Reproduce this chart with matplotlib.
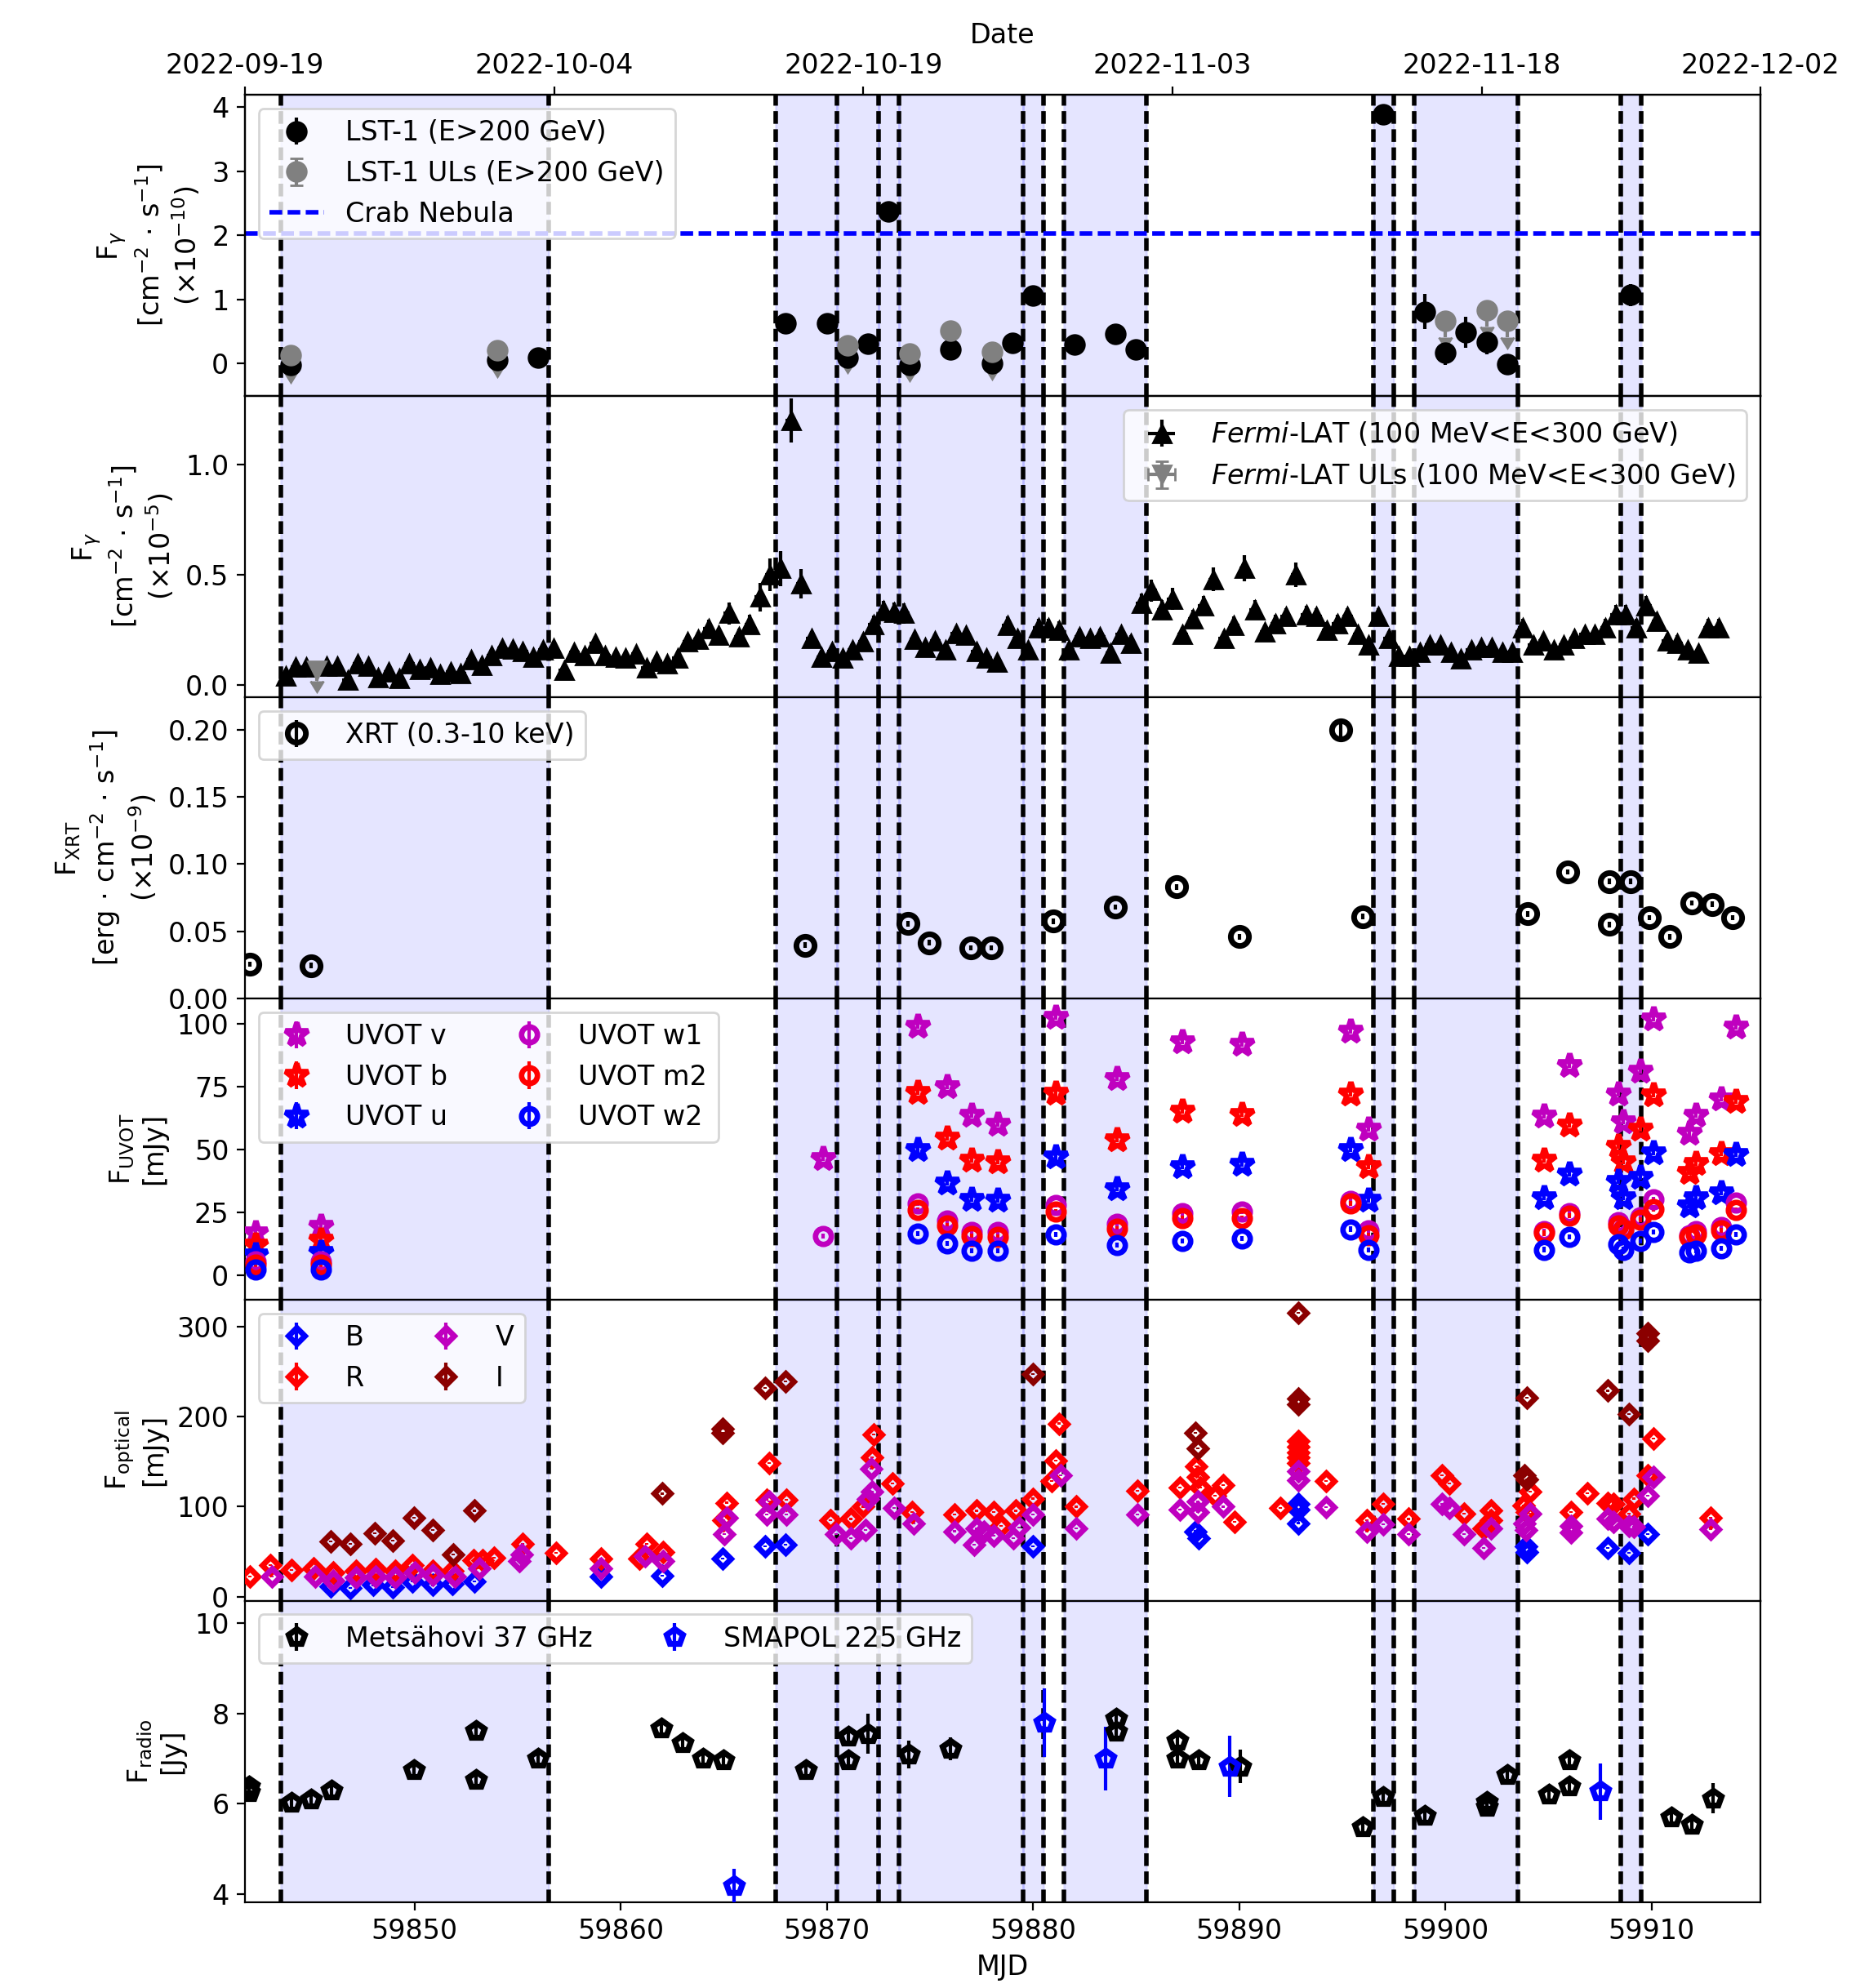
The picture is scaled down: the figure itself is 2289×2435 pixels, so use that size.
import numpy as np
import pandas as pd
import matplotlib
matplotlib.use('Agg')
import matplotlib.pyplot as plt

plt.rcParams['font.size'] = 12

# night windows (MJD) and their edges
night_spans = [(59843.5, 59856.5), (59867.5, 59870.5), (59870.5, 59872.5), (59872.5, 59873.5),
               (59873.5, 59879.5), (59879.5, 59880.5), (59881.5, 59885.5), (59896.5, 59897.5),
               (59898.5, 59903.5), (59908.5, 59909.5)]
night_edges = [59843.5, 59856.5, 59867.5, 59870.5, 59872.5, 59873.5, 59879.5, 59880.5,
               59881.5, 59885.5, 59896.5, 59897.5, 59898.5, 59903.5, 59908.5, 59909.5]

# LST-1 (x1e-10 cm-2 s-1)
lst_mjd = [59844, 59854, 59856, 59868, 59870, 59871, 59872, 59873, 59874, 59876, 59878, 59879,
           59880, 59882, 59884, 59885, 59897, 59899, 59900, 59901, 59902, 59903, 59909]
lst_flux = [-0.02, 0.06, 0.09, 0.63, 0.63, 0.09, 0.31, 2.37, -0.02, 0.22, 0.0, 0.32,
            1.06, 0.29, 0.46, 0.22, 3.89, 0.81, 0.17, 0.49, 0.33, -0.01, 1.07]
lst_err = [0.08, 0.08, 0.06, 0.06, 0.06, 0.08, 0.07, 0.08, 0.08, 0.1, 0.08, 0.07,
           0.08, 0.07, 0.07, 0.07, 0.08, 0.27, 0.19, 0.24, 0.19, 0.1, 0.17]
lst_ul_mjd = [59844, 59854, 59871, 59874, 59876, 59878, 59900, 59902, 59903]
lst_ul = [0.13, 0.21, 0.28, 0.15, 0.51, 0.18, 0.66, 0.83, 0.66]
crab_flux = 2.03

# Fermi-LAT 12 h bins (x1e-5 cm-2 s-1)
fermi_mjd = [59843.75, 59844.25, 59844.75, 59845.75, 59846.25, 59846.75, 59847.25, 59847.75, 59848.25, 59848.75,
             59849.25, 59849.75, 59850.25, 59850.75, 59851.25, 59851.75, 59852.25, 59852.75, 59853.25, 59853.75,
             59854.25, 59854.75, 59855.25, 59855.75, 59856.25, 59856.75, 59857.25, 59857.75, 59858.25, 59858.75,
             59859.25, 59859.75, 59860.25, 59860.75, 59861.25, 59861.75, 59862.25, 59862.75, 59863.25, 59863.75,
             59864.25, 59864.75, 59865.25, 59865.75, 59866.25, 59866.75, 59867.25, 59867.75, 59868.25, 59868.75,
             59869.25, 59869.75, 59870.25, 59870.75, 59871.25, 59871.75, 59872.25, 59872.75, 59873.25, 59873.75,
             59874.25, 59874.75, 59875.25, 59875.75, 59876.25, 59876.75, 59877.25, 59877.75, 59878.25, 59878.75,
             59879.25, 59879.75, 59880.25, 59880.75, 59881.25, 59881.75, 59882.25, 59882.75, 59883.25, 59883.75,
             59884.25, 59884.75, 59885.25, 59885.75, 59886.25, 59886.75, 59887.25, 59887.75, 59888.25, 59888.75,
             59889.25, 59889.75, 59890.25, 59890.75, 59891.25, 59891.75, 59892.25, 59892.75, 59893.25, 59893.75,
             59894.25, 59894.75, 59895.25, 59895.75, 59896.25, 59896.75, 59897.25, 59897.75, 59898.25, 59898.75,
             59899.25, 59899.75, 59900.25, 59900.75, 59901.25, 59901.75, 59902.25, 59902.75, 59903.25, 59903.75,
             59904.25, 59904.75, 59905.25, 59905.75, 59906.25, 59906.75, 59907.25, 59907.75, 59908.25, 59908.75,
             59909.25, 59909.75, 59910.25, 59910.75, 59911.25, 59911.75, 59912.25, 59912.75, 59913.25]
fermi_flux = [0.04, 0.08, 0.08, 0.084, 0.084, 0.022, 0.096, 0.084, 0.035, 0.06,
              0.028, 0.096, 0.072, 0.078, 0.047, 0.06, 0.053, 0.115, 0.09, 0.133,
              0.167, 0.162, 0.152, 0.127, 0.158, 0.167, 0.065, 0.149, 0.133, 0.189,
              0.133, 0.127, 0.121, 0.14, 0.078, 0.109, 0.096, 0.121, 0.195, 0.207,
              0.257, 0.226, 0.325, 0.22, 0.275, 0.40, 0.50, 0.53, 1.20, 0.46,
              0.21, 0.127, 0.152, 0.121, 0.158, 0.195, 0.275, 0.337, 0.331, 0.325,
              0.207, 0.17, 0.20, 0.158, 0.232, 0.226, 0.152, 0.124, 0.105, 0.27,
              0.21, 0.16, 0.26, 0.26, 0.25, 0.16, 0.22, 0.21, 0.22, 0.146,
              0.23, 0.19, 0.37, 0.43, 0.34, 0.39, 0.23, 0.30, 0.36, 0.48,
              0.21, 0.27, 0.53, 0.34, 0.24, 0.28, 0.31, 0.50, 0.32, 0.31,
              0.25, 0.28, 0.31, 0.23, 0.18, 0.31, 0.21, 0.13, 0.13, 0.15,
              0.18, 0.18, 0.15, 0.12, 0.16, 0.17, 0.17, 0.15, 0.15, 0.26,
              0.18, 0.20, 0.16, 0.18, 0.21, 0.23, 0.23, 0.26, 0.32, 0.32,
              0.26, 0.36, 0.29, 0.20, 0.19, 0.16, 0.146, 0.26, 0.26]
fermi_err = [0.02, 0.025, 0.025, 0.025, 0.025, 0.02, 0.025, 0.025, 0.02, 0.02,
             0.02, 0.025, 0.02, 0.02, 0.02, 0.02, 0.02, 0.025, 0.025, 0.03,
             0.03, 0.03, 0.03, 0.03, 0.03, 0.03, 0.02, 0.03, 0.03, 0.035,
             0.03, 0.03, 0.03, 0.03, 0.025, 0.03, 0.025, 0.03, 0.035, 0.035,
             0.04, 0.035, 0.05, 0.035, 0.045, 0.065, 0.075, 0.08, 0.1, 0.065,
             0.035, 0.03, 0.03, 0.03, 0.03, 0.035, 0.04, 0.045, 0.045, 0.045,
             0.035, 0.03, 0.035, 0.03, 0.035, 0.035, 0.03, 0.03, 0.025, 0.04,
             0.035, 0.03, 0.04, 0.04, 0.04, 0.03, 0.035, 0.035, 0.035, 0.03,
             0.035, 0.035, 0.045, 0.05, 0.045, 0.05, 0.035, 0.04, 0.045, 0.055,
             0.035, 0.04, 0.06, 0.045, 0.035, 0.04, 0.04, 0.055, 0.04, 0.04,
             0.035, 0.04, 0.04, 0.035, 0.03, 0.04, 0.035, 0.025, 0.025, 0.03,
             0.03, 0.03, 0.03, 0.025, 0.03, 0.03, 0.03, 0.03, 0.03, 0.04,
             0.03, 0.035, 0.03, 0.03, 0.035, 0.035, 0.035, 0.04, 0.045, 0.045,
             0.04, 0.045, 0.04, 0.035, 0.035, 0.03, 0.03, 0.04, 0.04]
fermi_ul_mjd = [59845.25]
fermi_ul = [0.068]

# Swift-XRT (x1e-9 erg cm-2 s-1)
xrt_mjd = [59842.02, 59844.98, 59868.95, 59873.92, 59874.97, 59877.0, 59877.98, 59880.99, 59884.0,
           59886.95, 59890.03, 59894.94, 59895.99, 59903.98, 59905.95, 59907.97, 59907.97, 59909.0,
           59909.9, 59910.9, 59911.97, 59912.95, 59913.94]
xrt_flux = [0.0255, 0.0245, 0.0396, 0.0557, 0.0415, 0.0377, 0.0377, 0.0575, 0.068,
            0.083, 0.046, 0.200, 0.061, 0.063, 0.094, 0.087, 0.055, 0.087,
            0.060, 0.046, 0.071, 0.070, 0.060]
xrt_err = [0.002, 0.002, 0.002, 0.002, 0.002, 0.002, 0.002, 0.002, 0.002,
           0.002, 0.002, 0.006, 0.002, 0.002, 0.002, 0.002, 0.002, 0.002,
           0.002, 0.002, 0.002, 0.002, 0.002]

# Swift-UVOT (mJy)
uvot_mjd = [59842.3, 59845.45, 59869.83, 59874.39, 59875.83, 59877.03, 59878.3, 59881.09, 59884.07,
            59887.25, 59890.13, 59895.39, 59896.25, 59904.8, 59906.0, 59908.4, 59908.64, 59909.45,
            59910.1, 59911.82, 59912.14, 59913.36, 59914.07]
uvot_v = [16.7, 19.4, 46.3, 99.1, 74.9, 63.6, 60.0, 102.4, 78.1,
          92.7, 91.8, 97.0, 58.2, 63.4, 83.5, 72.0, 60.9, 81.0,
          101.8, 56.3, 63.6, 70.0, 98.6]
uvot_b = [12.0, 14.0, np.nan, 72.7, 54.4, 45.8, 45.1, 72.2, 53.9,
          65.2, 63.8, 72.0, 43.1, 45.8, 59.8, 51.2, 45.0, 58.2,
          71.7, 40.9, 44.4, 48.3, 69.0]
uvot_u = [8.0, 9.2, np.nan, 49.8, 36.6, 30.2, 29.8, 46.9, 34.5,
          43.3, 44.2, 49.9, 30.0, 30.7, 40.1, 37.2, 30.7, 39.0,
          48.7, 27.5, 30.7, 32.9, 48.0]
uvot_w1 = [5.5, 5.4, 15.6, 28.6, 21.6, 17.2, 17.2, 28.0, 20.5,
           24.8, 25.3, 29.6, 17.8, 17.5, 24.8, 21.0, 18.5, 23.0,
           30.2, 16.0, 17.5, 19.0, 29.0]
uvot_m2 = [4.3, 4.3, np.nan, 25.9, 19.9, 15.6, 15.1, 25.3, 18.5,
           22.8, 22.8, 28.6, 15.9, 16.7, 23.7, 19.9, 18.3, 22.1,
           26.4, 15.1, 16.2, 17.8, 25.9]
uvot_w2 = [2.2, 2.2, np.nan, 16.4, 12.6, 9.7, 9.7, 16.2, 12.1,
           13.5, 14.5, 18.3, 10.0, 10.2, 15.3, 12.4, 10.2, 13.5,
           17.2, 9.2, 9.7, 10.8, 16.2]

# optical (mJy)
opt_B_mjd = [59845.95, 59846.9, 59848.0, 59848.95, 59849.9, 59850.87, 59851.83, 59852.9, 59859.03,
             59862.03, 59864.95, 59867.0, 59867.98, 59879.99, 59887.86, 59888.03, 59892.87, 59892.87,
             59892.87, 59903.9, 59903.95, 59907.86, 59908.89, 59909.8]
opt_B = [12, 10, 13, 11, 17, 13, 14, 17, 22,
         23, 42.4, 56.0, 57.6, 56.0, 72.7, 65.2, 103.0, 97.0,
         81.8, 56.0, 50.0, 54.5, 48.5, 69.7]
opt_R_mjd = [59842.0, 59843.0, 59844.03, 59845.1, 59846.07, 59847.15, 59848.1, 59849.07, 59849.9,
             59850.87, 59851.83, 59852.86, 59853.3, 59853.87, 59855.26, 59856.87, 59859.03, 59860.9,
             59861.26, 59862.07, 59865.0, 59865.15, 59867.07, 59867.19, 59868.03, 59870.19, 59871.15,
             59871.75, 59872.2, 59872.25, 59873.2, 59874.15, 59876.2, 59877.27, 59878.08, 59878.45,
             59879.18, 59879.99, 59880.9, 59881.09, 59881.26, 59882.1, 59885.05, 59887.13, 59887.9,
             59887.98, 59888.1, 59888.84, 59889.2, 59889.77, 59892.0, 59892.87, 59892.87, 59892.87,
             59892.87, 59892.87, 59894.2, 59896.17, 59897.0, 59898.2, 59899.84, 59900.2, 59900.9,
             59901.87, 59902.2, 59902.2, 59903.8, 59903.95, 59904.1, 59906.08, 59906.88, 59907.86,
             59908.16, 59908.89, 59909.13, 59909.8, 59910.1, 59912.85]
opt_R = [22.7, 34.8, 29.4, 31.8, 27.3, 28.8, 30.9, 28.8, 34.8,
         28.8, 28.8, 40.9, 40.9, 43.0, 59.0, 48.5, 42.4, 42.4,
         59.0, 50.0, 84.8, 104.5, 107.6, 148.5, 107.6, 84.8, 86.4,
         100.0, 154.5, 180.3, 125.8, 94.0, 91.0, 95.5, 94.0, 78.8,
         95.5, 109.0, 128.8, 151.5, 192.4, 100.0, 118.0, 121.0, 145.0,
         133.0, 121.0, 112.0, 124.0, 83.0, 98.5, 172.7, 166.7, 160.6,
         154.5, 148.5, 128.8, 84.8, 103.0, 86.4, 134.8, 125.8, 92.4,
         75.8, 95.5, 84.8, 101.5, 94.0, 116.7, 94.0, 115.0, 104.5,
         103.0, 92.4, 109.0, 134.8, 175.8, 87.9]
opt_V_mjd = [59843.07, 59845.2, 59846.07, 59847.15, 59848.1, 59849.07, 59850.0, 59850.87, 59851.95,
             59853.15, 59855.07, 59855.2, 59859.03, 59861.2, 59862.04, 59865.03, 59865.15, 59867.07,
             59867.19, 59868.03, 59870.43, 59871.15, 59871.86, 59871.98, 59872.16, 59872.2, 59873.26,
             59874.2, 59876.2, 59877.15, 59877.27, 59877.6, 59878.08, 59879.06, 59879.3, 59879.99,
             59881.33, 59882.1, 59885.05, 59887.13, 59887.98, 59887.98, 59889.2, 59892.87, 59892.87,
             59894.2, 59896.17, 59897.0, 59898.2, 59899.84, 59900.2, 59900.9, 59901.87, 59902.2,
             59903.85, 59903.9, 59904.1, 59906.08, 59906.08, 59907.86, 59908.16, 59908.89, 59909.13,
             59909.8, 59910.1, 59912.85]
opt_V = [22.7, 22.7, 18.2, 21.2, 22.7, 21.2, 27.3, 24.2, 22.7,
         31.8, 39.4, 47.0, 31.8, 45.5, 39.4, 69.7, 87.9, 91.0,
         106.0, 91.0, 69.7, 65.2, 74.2, 109.0, 142.0, 116.7, 98.5,
         81.8, 72.7, 57.6, 75.8, 72.7, 68.0, 65.0, 77.0, 91.0,
         134.8, 75.8, 91.0, 97.0, 106.0, 94.0, 100.0, 139.4, 129.7,
         99.4, 72.7, 80.3, 69.7, 103.0, 98.5, 69.7, 54.5, 75.8,
         81.8, 74.2, 92.4, 78.8, 71.2, 86.4, 83.3, 78.8, 77.3,
         112.0, 133.0, 75.2]
opt_I_mjd = [59845.95, 59846.9, 59848.06, 59848.95, 59849.98, 59850.87, 59851.87, 59852.9, 59862.03,
             59864.95, 59864.95, 59867.0, 59867.98, 59879.99, 59887.86, 59887.98, 59892.87, 59892.87,
             59892.87, 59903.85, 59903.95, 59903.95, 59907.86, 59908.89, 59909.8, 59909.8]
opt_I = [61.2, 59.0, 70.3, 62.0, 87.9, 74.2, 47.0, 95.5, 114.5,
         186.4, 181.8, 231.8, 239.4, 247.6, 181.8, 165.0, 315.0, 219.7,
         213.6, 134.8, 130.3, 221.2, 228.8, 203.0, 292.4, 284.8]

# radio (Jy)
mets_mjd = [59841.99, 59841.99, 59844.03, 59844.99, 59845.99, 59849.98, 59852.98, 59852.98, 59855.98,
            59861.98, 59862.99, 59863.99, 59865.0, 59868.99, 59871.03, 59871.03, 59871.99, 59873.98,
            59875.99, 59884.02, 59884.02, 59887.0, 59887.0, 59888.03, 59890.06, 59896.0, 59896.98,
            59898.99, 59902.0, 59902.0, 59903.02, 59905.03, 59906.0, 59906.0, 59910.97, 59911.94, 59912.97]
mets_flux = [6.38, 6.25, 6.03, 6.09, 6.30, 6.74, 7.61, 6.53, 7.00,
             7.67, 7.35, 7.00, 6.97, 6.74, 7.48, 6.97, 7.55, 7.09,
             7.22, 7.88, 7.59, 7.39, 7.00, 6.97, 6.82, 5.47, 6.15,
             5.73, 5.93, 6.04, 6.64, 6.21, 6.97, 6.39, 5.70, 5.53, 6.12]
mets_err = [0.15, 0.15, 0.12, 0.15, 0.12, 0.12, 0.15, 0.15, 0.15,
            0.18, 0.18, 0.15, 0.12, 0.12, 0.15, 0.15, 0.45, 0.3,
            0.25, 0.15, 0.15, 0.15, 0.15, 0.12, 0.37, 0.12, 0.2,
            0.12, 0.12, 0.15, 0.15, 0.15, 0.2, 0.15, 0.12, 0.12, 0.33]
smapol_mjd = [59865.5, 59880.53, 59883.53, 59889.52, 59907.5]
smapol_flux = [4.18, 7.79, 7.00, 6.82, 6.27]
smapol_err = [0.38, 0.76, 0.70, 0.68, 0.62]

xmin, xmax = 59841.77, 59915.26
dash = (0, (2.8, 1.2))

fig, axes = plt.subplots(6, 1, sharex=True, figsize=(11.445, 12.175), dpi=200)
fig.subplots_adjust(left=0.131, right=0.9417, top=0.9522, bottom=0.0433, hspace=0)

for ax in axes:
    for a, b in night_spans:
        ax.axvspan(a, b, color='b', alpha=0.1, zorder=0)
    for x in night_edges:
        ax.axvline(x, color='k', ls=dash, lw=2, zorder=1)

# LST-1
ax = axes[0]
h1 = ax.errorbar(lst_mjd, lst_flux, yerr=lst_err, fmt='o', color='k', ms=8.5, zorder=3,
                 label='LST-1 (E>200 GeV)')
h2 = ax.errorbar(lst_ul_mjd, lst_ul, yerr=0.25, uplims=True, fmt='o', color='gray', ms=8.5, zorder=3,
                 label='LST-1 ULs (E>200 GeV)')
h3, = ax.plot([xmin, xmax], [crab_flux, crab_flux], color='b', ls=dash, lw=2, label='Crab Nebula')
ax.legend(handles=[h1, h2, h3], loc='upper left')
ax.set_ylim(-0.51, 4.19)
ax.set_yticks([0, 1, 2, 3, 4])
ax.set_ylabel('F$_{\\gamma}$\n[cm$^{-2}\\,\\cdot\\,$s$^{-1}$]\n($\\times10^{-10}$)')

# Fermi-LAT
ax = axes[1]
ax.errorbar(fermi_mjd, fermi_flux, yerr=fermi_err, xerr=0.25, fmt='^', color='k', ms=8, zorder=3,
            label='$\\it{Fermi}$-LAT (100 MeV<E<300 GeV)')
ax.errorbar(fermi_ul_mjd, fermi_ul, yerr=0.05, xerr=0.25, uplims=True, fmt='v', color='gray', ms=8,
            zorder=3, label='$\\it{Fermi}$-LAT ULs (100 MeV<E<300 GeV)')
ax.legend(loc='upper right')
ax.set_ylim(-0.056, 1.312)
ax.set_yticks([0.0, 0.5, 1.0])
ax.set_ylabel('F$_{\\gamma}$\n[cm$^{-2}\\,\\cdot\\,$s$^{-1}$]\n($\\times10^{-5}$)')

# XRT
ax = axes[2]
ax.errorbar(xrt_mjd, xrt_flux, yerr=xrt_err, fmt='o', color='k', mfc='none', ms=8, mew=2.5, zorder=3,
            label='XRT (0.3-10 keV)')
ax.legend(loc='upper left')
ax.set_ylim(0, 0.224)
ax.set_yticks([0.0, 0.05, 0.10, 0.15, 0.20])
ax.set_ylabel('F$_{\\mathrm{XRT}}$\n[erg$\\,\\cdot\\,$cm$^{-2}\\,\\cdot\\,$s$^{-1}$]\n($\\times10^{-9}$)')

# UVOT
ax = axes[3]
uvot_sets = [(uvot_v, '*', 'm', 'UVOT v'), (uvot_b, '*', 'r', 'UVOT b'), (uvot_u, '*', 'b', 'UVOT u'),
             (uvot_w1, 'o', 'm', 'UVOT w1'), (uvot_m2, 'o', 'r', 'UVOT m2'), (uvot_w2, 'o', 'b', 'UVOT w2')]
for vals, mk, col, lab in uvot_sets:
    ms = 10.5 if mk == '*' else 7
    ax.errorbar(uvot_mjd, vals, yerr=1.0, fmt=mk, color=col, mfc='none', ms=ms, mew=2.4, zorder=3, label=lab)
ax.legend(loc='upper left', ncol=2)
ax.set_ylim(-9.7, 110)
ax.set_yticks([0, 25, 50, 75, 100])
ax.set_ylabel('F$_{\\mathrm{UVOT}}$\n[mJy]')

# optical
ax = axes[4]
opt_sets = [(opt_B_mjd, opt_B, 'b', 'B'), (opt_R_mjd, opt_R, 'r', 'R'),
            (opt_V_mjd, opt_V, 'm', 'V'), (opt_I_mjd, opt_I, 'darkred', 'I')]
for t, vals, col, lab in opt_sets:
    ax.errorbar(t, vals, yerr=1.0, fmt='D', color=col, mfc='none', ms=5, mew=2.5, zorder=3, label=lab)
ax.legend(loc='upper left', ncol=2)
ax.set_ylim(-4.5, 330)
ax.set_yticks([0, 100, 200, 300])
ax.set_ylabel('F$_{\\mathrm{optical}}$\n[mJy]')

# radio
ax = axes[5]
ax.errorbar(mets_mjd, mets_flux, yerr=mets_err, fmt='p', color='k', mfc='none', ms=7.5, mew=2.6, zorder=3,
            label='Metsähovi 37 GHz')
ax.errorbar(smapol_mjd, smapol_flux, yerr=smapol_err, fmt='p', color='b', mfc='none', ms=7.5, mew=2.6,
            zorder=3, label='SMAPOL 225 GHz')
ax.legend(loc='upper left', ncol=2)
ax.set_ylim(3.82, 10.5)
ax.set_yticks([4, 6, 8, 10])
ax.set_ylabel('F$_{\\mathrm{radio}}$\n[Jy]')
ax.set_xlabel('MJD')
ax.set_xlim(xmin, xmax)
ax.set_xticks([59850, 59860, 59870, 59880, 59890, 59900, 59910])

# date axis on top
ax_top = axes[0].twiny()
ax_top.set_xlim(xmin, xmax)
top_ticks = [xmin, xmin + 15, xmin + 30, xmin + 45, xmin + 60, xmax]
mjd0 = pd.Timestamp('1858-11-17')
top_labels = [(mjd0 + pd.Timedelta(days=t)).strftime('%Y-%m-%d') for t in top_ticks]
ax_top.set_xticks(top_ticks)
ax_top.set_xticklabels(top_labels)
ax_top.set_xlabel('Date')

fig.savefig('out.png', dpi=200)
